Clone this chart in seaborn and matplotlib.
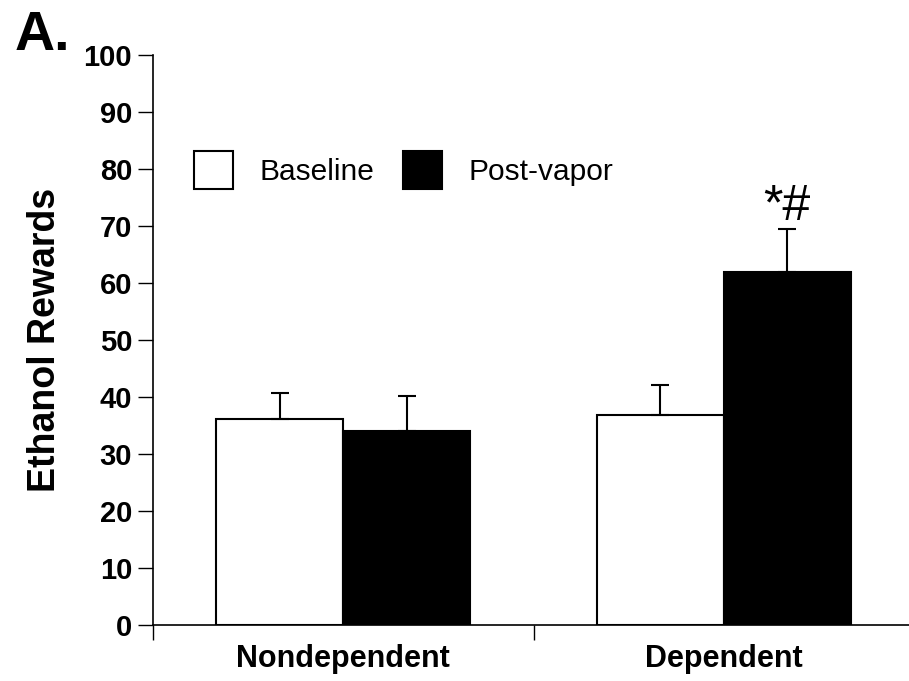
import matplotlib
matplotlib.use("Agg")
import matplotlib.pyplot as plt
import seaborn as sns
import pandas as pd
import numpy as np
from matplotlib.patches import Patch
from matplotlib.ticker import FixedLocator

groups = ["Nondependent", "Dependent"]
conditions = ["Baseline", "Post-vapor"]
baseline_means = [36.1, 36.8]
postvapor_means = [34.0, 62.0]
baseline_sem = [4.6, 5.3]
postvapor_sem = [6.2, 7.5]
yticks = list(range(0, 101, 10))
annotation = "*#"

sns.set_theme(style="ticks")
plt.rcParams["font.family"] = ["Liberation Sans", "DejaVu Sans"]
plt.rcParams["text.color"] = "black"
plt.rcParams["axes.labelcolor"] = "black"
plt.rcParams["xtick.color"] = "black"
plt.rcParams["ytick.color"] = "black"
plt.rcParams["axes.edgecolor"] = "black"

df = pd.DataFrame({
    "group": groups * 2,
    "condition": [conditions[0]] * 2 + [conditions[1]] * 2,
    "value": baseline_means + postvapor_means,
})

fig = plt.figure(figsize=(9.09, 6.81), dpi=100)
ax = fig.add_axes([153 / 909, 56 / 681, 761 / 909, 570 / 681])

sns.barplot(data=df, x="group", y="value", hue="condition", order=groups,
            hue_order=conditions, palette=["white", "black"], width=2 / 3,
            edgecolor="black", linewidth=1.5, errorbar=None, ax=ax, legend=False)

# error bars (upper only) at bar centers
errs = {conditions[0]: baseline_sem, conditions[1]: postvapor_sem}
means = {conditions[0]: baseline_means, conditions[1]: postvapor_means}
bars = [p for p in ax.patches if p.get_height() > 0]
bars_sorted = sorted(bars, key=lambda p: p.get_x())
order_pairs = [(g, c) for gi, g in enumerate(groups) for c in conditions]
for p, (g, c) in zip(bars_sorted, order_pairs):
    gi = groups.index(g)
    xc = p.get_x() + p.get_width() / 2
    ax.errorbar(xc, means[c][gi], yerr=[[0], [errs[c][gi]]], fmt="none",
                ecolor="black", elinewidth=1.5, capsize=6.5, capthick=1.5, zorder=1)

# annotation above the dependent post-vapor bar
p_dep = bars_sorted[3]
ax.text(p_dep.get_x() + p_dep.get_width() / 2,
        postvapor_means[1] + postvapor_sem[1] + 1.6, annotation,
        ha="center", va="baseline", fontsize=36, color="black")

ax.set_ylim(0, 100)
ax.set_xlim(-0.5, 1.5)
ax.set_yticks(yticks)
ax.set_yticklabels([str(t) for t in yticks], fontsize=21, fontweight="bold")
ax.tick_params(axis="y", length=11, width=1, direction="out", pad=4, colors="black")
ax.tick_params(axis="x", which="major", length=0, pad=14, colors="black")
for lab in ax.get_xticklabels():
    lab.set_fontsize(22)
    lab.set_fontweight("bold")
ax.xaxis.set_minor_locator(FixedLocator([-0.5, 0.5, 1.5]))
ax.tick_params(axis="x", which="minor", length=11, width=1, direction="out")
ax.set_xlabel("")
ax.set_ylabel("Ethanol Rewards", fontsize=27, fontweight="bold", labelpad=15)

sns.despine(ax=ax, top=True, right=True)
for s in ["left", "bottom"]:
    ax.spines[s].set_linewidth(1.2)
    ax.spines[s].set_color("black")

handles = [Patch(facecolor="white", edgecolor="black", linewidth=1.5),
           Patch(facecolor="black", edgecolor="black", linewidth=1.5)]
fig.legend(handles, conditions, loc="upper left",
           bbox_to_anchor=(167 / 909, 1 - 124 / 681), ncol=2, frameon=False,
           fontsize=21.5, handlelength=1.3, handleheight=1.6,
           handletextpad=0.9, columnspacing=0.95)

fig.text(15 / 909, 1 - 50 / 681, "A.", fontsize=40, fontweight="bold",
         ha="left", va="baseline")

fig.savefig("out.png", dpi=100)
